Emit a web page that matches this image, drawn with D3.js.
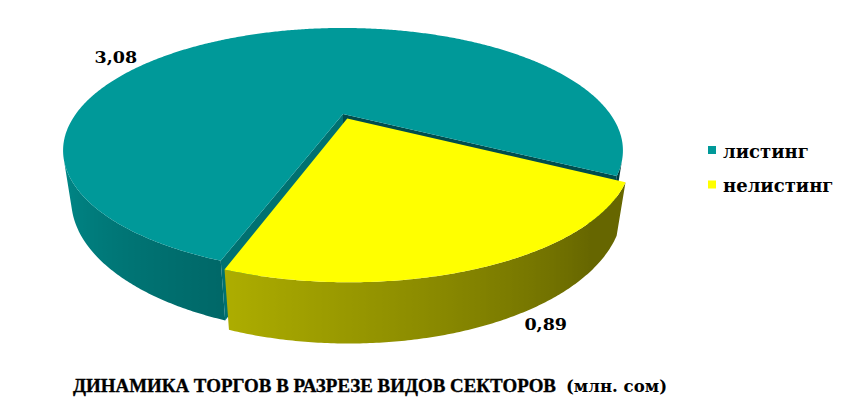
<!DOCTYPE html>
<html><head><meta charset="utf-8">
<script src="https://cdn.jsdelivr.net/npm/d3@7"></script>
<style>body{margin:0;background:#fff}svg{display:block}</style>
</head><body><svg id="chart" width="853" height="407"></svg>
<script>
// ---- data ----
const categories = ["листинг", "нелистинг"];
const values = [3.08, 0.89];
const valueLabels = ["3,08", "0,89"];
const titleMain = "ДИНАМИКА ТОРГОВ В РАЗРЕЗЕ ВИДОВ СЕКТОРОВ";
const titleUnit = "(млн. сом)";

// ---- layout ----
const svg = d3.select("#chart");
const color = d3.scaleOrdinal().domain(categories).range(["#009999", "#ffff00"]);
const explode = d3.scaleOrdinal().domain(categories).range([0, 0.043]);
const deg = Math.PI / 180;

const cam = {cx: 343, cy: 114, f: 815, D: 3.05, phi: 24.7 * deg, h: 0.2};
const sP = Math.sin(cam.phi), cP = Math.cos(cam.phi);
function proj(u, v, Y) {
  const d = cam.D + v * cP - Y * sP;
  return [cam.cx + cam.f * u / d, cam.cy - cam.f * (Y * cP + v * sP) / d];
}
const startA = 199.2 * deg;
const pie = d3.pie().sort(null).value(d => d).startAngle(startA).endAngle(startA + 2 * Math.PI);
const arcs = pie(values);

function area(pts) {
  let s = 0;
  for (let i = 0; i < pts.length; i++) {
    const a = pts[i], b = pts[(i + 1) % pts.length];
    s += a[0] * b[1] - b[0] * a[1];
  }
  return s / 2;
}
function shadeK(a) {
  let dg = ((a / deg) % 360 + 360) % 360;
  return Math.max(0.4, Math.min(0.95, 0.4 + (dg - 135) * 0.00436));
}
function shade(base, k) {
  const c = d3.rgb(base);
  return d3.rgb(c.r * k, c.g * k, c.b * k).formatHex();
}
const line = d3.line();
const defs = svg.append("defs");
let gid = 0;

arcs.forEach((arc, idx) => {
  const cat = categories[idx];
  const base = color(cat);
  const mid = (arc.startAngle + arc.endAngle) / 2;
  const e = explode(cat);
  const ox = e * Math.sin(mid), oz = e * Math.cos(mid);
  const rim = (a, Y) => proj(ox + Math.sin(a), oz + Math.cos(a), Y);
  const apex = Y => proj(ox, oz, Y);
  const h = -cam.h;
  const a0 = arc.startAngle, a1 = arc.endAngle;
  const n = Math.ceil((a1 - a0) / (0.5 * deg));
  const angs = d3.range(n + 1).map(i => a0 + (a1 - a0) * i / n);
  const g = svg.append("g");

  // radial faces
  const startFace = [apex(0), rim(a0, 0), rim(a0, h), apex(h)];
  const endFace = [apex(h), rim(a1, h), rim(a1, 0), apex(0)];
  if (area(startFace) < 0)
    g.append("path").attr("d", line(startFace) + "Z").attr("fill", shade(base, 0.74));
  if (area(endFace) < 0)
    g.append("path").attr("d", line(endFace) + "Z").attr("fill", shade(base, 0.5));

  // outer wall: visible runs
  const runs = [];
  let cur = null;
  for (let i = 0; i < n; i++) {
    const q = [rim(angs[i], 0), rim(angs[i + 1], 0), rim(angs[i + 1], h), rim(angs[i], h)];
    if (area(q) < 0) {
      if (!cur) { cur = [i]; runs.push(cur); }
      cur.push(i + 1);
    } else cur = null;
  }
  runs.forEach(run => {
    const topPts = run.map(i => rim(angs[i], 0));
    const botPts = run.map(i => rim(angs[i], h)).reverse();
    const xs = topPts.concat(botPts).map(p => p[0]);
    const x0 = d3.min(xs), x1 = d3.max(xs);
    const id = "wg" + (gid++);
    const grad = defs.append("linearGradient").attr("id", id)
      .attr("gradientUnits", "userSpaceOnUse")
      .attr("x1", x0).attr("x2", x1).attr("y1", 0).attr("y2", 0);
    const stops = run.map(i => ({x: rim(angs[i], 0)[0], k: shadeK(angs[i])}))
      .sort((a, b) => a.x - b.x);
    stops.forEach(s => grad.append("stop")
      .attr("offset", x1 > x0 ? (s.x - x0) / (x1 - x0) : 0)
      .attr("stop-color", shade(base, s.k)));
    g.append("path").attr("d", line(topPts.concat(botPts)) + "Z").attr("fill", `url(#${id})`);
  });

  // top face
  const top = [apex(0)].concat(angs.map(a => rim(a, 0)));
  g.append("path").attr("d", line(top) + "Z").attr("fill", base);
});

// value labels
const labelPlace = [{a: 301 * deg, r: 1.17, Y: 0}, {a: 149.5 * deg, r: 1.11, Y: -cam.h}];
valueLabels.forEach((t, i) => {
  const p = labelPlace[i];
  const [x, y] = proj(p.r * Math.sin(p.a), p.r * Math.cos(p.a), p.Y);
  svg.append("text").attr("x", x).attr("y", y).attr("dy", "0.36em")
    .attr("text-anchor", "middle")
    .attr("font-family", "DejaVu Serif").attr("font-weight", "bold").attr("font-size", 17.5)
    .attr("fill", "#000").text(t);
});

// legend
const leg = svg.append("g").attr("transform", "translate(708,146)");
categories.forEach((c, i) => {
  const r = leg.append("g").attr("transform", `translate(0,${i * 34.5})`);
  r.append("rect").attr("width", 8).attr("height", 8).attr("fill", color(c));
  r.append("text").attr("x", 15).attr("y", 11.5)
    .attr("font-family", "DejaVu Serif").attr("font-weight", "bold").attr("font-size", 18)
    .attr("fill", "#000").text(c);
});

// title
svg.append("text").attr("x", 73).attr("y", 392)
  .attr("font-family", "Liberation Serif").attr("font-weight", "bold").attr("font-size", 19)
  .attr("textLength", 483).attr("lengthAdjust", "spacingAndGlyphs")
  .attr("stroke", "#000").attr("stroke-width", 0.35)
  .attr("fill", "#000").text(titleMain);
svg.append("text").attr("x", 566).attr("y", 392)
  .attr("font-family", "DejaVu Serif").attr("font-weight", "bold").attr("font-size", 16)
  .attr("textLength", 101).attr("lengthAdjust", "spacingAndGlyphs")
  .attr("fill", "#000").text(titleUnit);
</script></body></html>
